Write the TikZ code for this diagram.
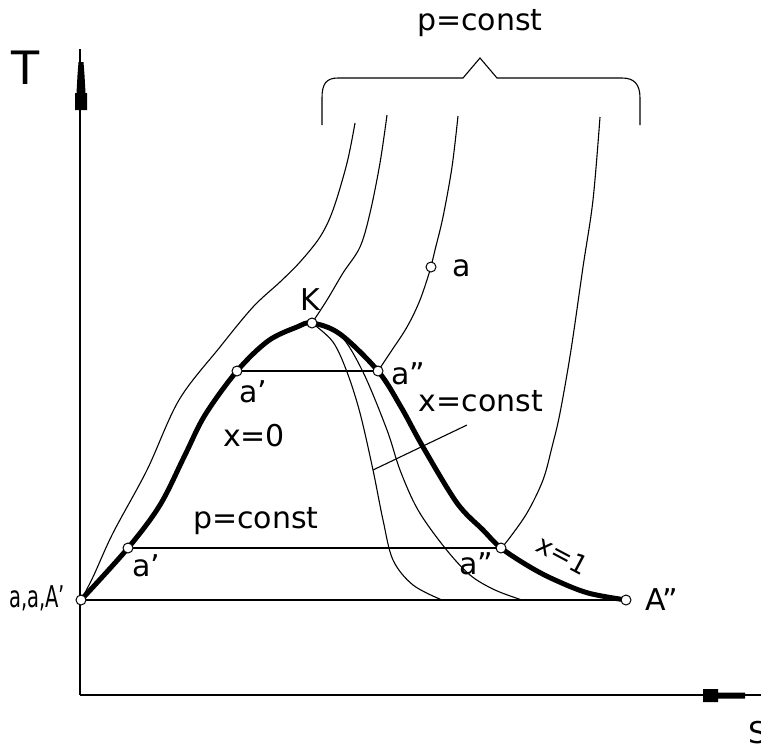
\documentclass[tikz,border=0pt]{standalone}
\usepackage{fontspec}
\setmainfont{DejaVu Sans}
\begin{document}
\begin{tikzpicture}[x=1pt,y=-1pt,
  thinline/.style={line width=1.1pt},
  axisline/.style={line width=1.8pt},
  hline/.style={line width=1.5pt},
  domeline/.style={line width=5pt, line join=round, line cap=round},
  pt/.style={circle, draw, fill=white, line width=1pt, minimum size=10pt, inner sep=0pt},
  lbl/.style={font=\fontsize{30}{32}\selectfont, inner sep=0pt},
  tip/.style={fill=black}]
\useasboundingbox (0,0) rectangle (761,747);

% axes
\coordinate (O) at (80,695);
\coordinate (Ttop) at (80,49);
\coordinate (Send) at (761,695);
\draw[axisline] (O) -- (Ttop);
\draw[axisline] (O) -- (Send);
\fill[tip] (75,110) -- (87,110) -- (87,93) -- (85.5,93) -- (84.5,75) -- (83.5,62) -- (78.5,62) -- (77.5,75) -- (76.5,93) -- (75,93) -- cycle;
\fill[tip] (703,689) -- (718,689) -- (718,692.5) -- (745,692.5) -- (745,698.5) -- (718,698.5) -- (718,702) -- (703,702) -- cycle;

% state points (coordinates first)
\coordinate (cAp) at (81,600);
\coordinate (cApp) at (626,600);
\coordinate (ca1p) at (128,548);
\coordinate (ca1pp) at (501,548);
\coordinate (ca2p) at (237,371);
\coordinate (ca2pp) at (378,371);
\coordinate (cK) at (312,323);
\coordinate (ca) at (431,267);

% isobars (thin)
\draw[thinline] plot[smooth, tension=0.55] coordinates {(cAp) (93,577) (113,533) (147,470) (179,400) (220,347) (253,307) (280,282) (300,262) (320,237) (333,210) (347,163) (355,123)};
\draw[thinline] plot[smooth, tension=0.55] coordinates {(cK) (327,300) (343,273) (360,247) (370,213) (380,163) (387,115)};
\draw[thinline] plot[smooth, tension=0.55] coordinates {(ca2pp) (390,353) (407,327) (420,300) (ca) (435,250) (443,217) (452,167) (458,116)};
\draw[thinline] plot[smooth, tension=0.55] coordinates {(ca1pp) (508,540) (527,513) (543,480) (552,447) (560,413) (571,350) (583,267) (593,200) (600,117)};

% x = const lines
\draw[thinline] plot[smooth, tension=0.55] coordinates {(cK) (333,342) (347,372) (360,413) (373,470) (383,520) (393,560) (413,585) (442,600)};
\draw[thinline] plot[smooth, tension=0.55] coordinates {(cK) (340,335) (363,372) (387,430) (400,470) (418,510) (445,548) (470,575) (495,590) (522,600)};
\coordinate (lead1) at (373,470);
\coordinate (lead2) at (467,425);
\draw[thinline] (lead1) -- (lead2);

% brace
\coordinate (br1) at (322,125);
\coordinate (br2) at (640,125);
\draw[thinline] (br1) -- (322,98) .. controls (322,84) and (326,78) .. (338,78) -- (463,78) -- (480,58) -- (497,78) -- (622,78) .. controls (634,78) and (640,84) .. (640,98) -- (br2);

% horizontal lines
\draw[hline] (cAp) -- (cApp);
\draw[hline] (ca1p) -- (ca1pp);
\draw[hline] (ca2p) -- (ca2pp);

% saturation dome
\draw[domeline] plot[smooth, tension=0.55] coordinates {(cAp) (ca1p) (160,505) (185,455) (205,415) (ca2p) (268,341) (297,327) (cK) (340,334) (ca2pp) (401,407) (423,447) (457,503) (483,530) (ca1pp) (530,567) (555,580) (588,593) (cApp)};

% points
\node[pt] (Ap) at (cAp) {};
\node[pt] (App) at (cApp) {};
\node[pt] (a1p) at (ca1p) {};
\node[pt] (a1pp) at (ca1pp) {};
\node[pt] (a2p) at (ca2p) {};
\node[pt] (a2pp) at (ca2pp) {};
\node[pt] (K) at (cK) {};
\node[pt] (a) at (ca) {};

% labels
\node[lbl, font=\fontsize{46}{48}\selectfont] (tT) at (26,68) {T};
\node[lbl, anchor=west] (tS) at (748,733) {S};
\node[lbl] (tpc1) at (480,23) {p=const};
\node[lbl] (tK) at (310,300) {K};
\node[lbl] (ta) at (462,268) {a};
\node[lbl] (ta2pp) at (408,374) {a''};
\node[lbl] (ta2p) at (253,392) {a'};
\node[lbl] (tx0) at (254,436) {x=0};
\node[lbl] (txc) at (481,401) {x=const};
\node[lbl] (tpc2) at (256,521) {p=const};
\node[lbl] (ta1p) at (146,566) {a'};
\node[lbl] (ta1pp) at (476,564) {a''};
\node[lbl, font=\fontsize{26}{28}\selectfont, rotate=-28] (tx1) at (563,555) {x=1};
\node[lbl] (tApp) at (662,600) {A''};
\node[lbl] (tAp) at (37,598) {\scalebox{0.65}[1]{a,a,A'}};
\end{tikzpicture}
\end{document}
